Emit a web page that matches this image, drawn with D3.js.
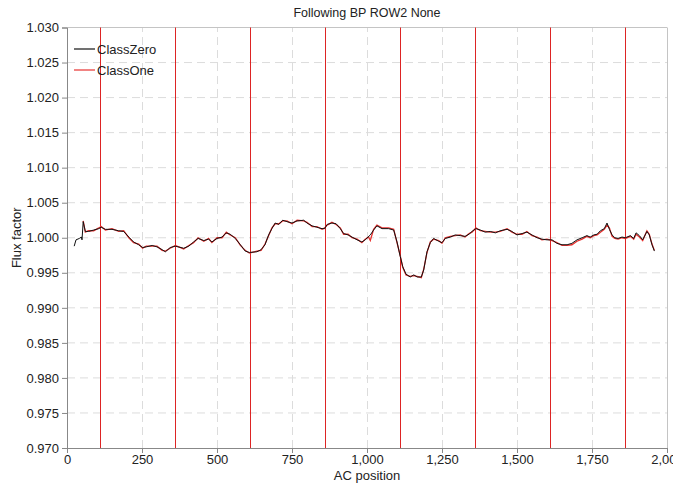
<!DOCTYPE html>
<html>
<head>
<meta charset="utf-8">
<script src="https://cdn.jsdelivr.net/npm/d3@7"></script>
<style>
  body { margin: 0; background: #fff; }
  text { font-family: "Liberation Sans", Arial, sans-serif; }
</style>
</head>
<body>
<div id="chart"></div>
<script>
// ClassZero (black) samples
var zeroX = [24,30,41,48,50,54,61,72,89,106,114,128,150,172,189,206,222,239,252,264,284,300,317,328,344,361,389,406,422,437,456,472,483,500,517,531,544,561,578,594,608,633,647,660,672,683,694,706,719,733,750,767,789,800,817,833,850,859,867,883,897,911,922,937,950,967,983,994,1011,1022,1033,1050,1072,1089,1100,1111,1119,1130,1144,1156,1167,1181,1189,1200,1211,1222,1239,1250,1261,1278,1294,1311,1327,1340,1350,1363,1378,1394,1411,1428,1444,1467,1483,1500,1517,1533,1550,1567,1583,1600,1617,1633,1650,1667,1683,1700,1717,1733,1744,1756,1767,1778,1791,1800,1808,1817,1826,1837,1850,1861,1878,1889,1897,1908,1919,1933,1941,1950,1958];
var zeroY = [0.9988,0.9997,0.9999,1.0001,0.9997,1.0023,1.0009,1.0009,1.0011,1.0013,1.0015,1.0012,1.0012,1.0010,1.0009,1.0001,0.9994,0.9990,0.9986,0.9987,0.9989,0.9987,0.9983,0.9980,0.9986,0.9988,0.9985,0.9988,0.9994,0.9999,0.9996,0.9998,0.9994,0.9999,1.0001,1.0007,1.0005,0.9999,0.9990,0.9981,0.9979,0.9980,0.9983,0.9990,1.0004,1.0013,1.0021,1.0019,1.0025,1.0023,1.0021,1.0024,1.0025,1.0021,1.0017,1.0015,1.0013,1.0013,1.0019,1.0021,1.0020,1.0013,1.0006,1.0004,1.0001,0.9997,0.9994,0.9997,1.0004,1.0011,1.0017,1.0013,1.0013,1.0011,0.9994,0.9973,0.9959,0.9948,0.9944,0.9947,0.9944,0.9944,0.9954,0.9980,0.9993,0.9999,0.9995,0.9993,0.9999,1.0001,1.0004,1.0003,1.0002,1.0005,1.0009,1.0013,1.0011,1.0008,1.0009,1.0007,1.0010,1.0012,1.0009,1.0004,1.0006,1.0008,1.0004,1.0000,0.9998,0.9997,0.9997,0.9992,0.9990,0.9990,0.9992,0.9997,1.0000,1.0003,1.0001,1.0004,1.0005,1.0010,1.0013,1.0021,1.0012,1.0004,1.0000,0.9999,1.0001,1.0000,1.0003,0.9999,1.0007,1.0003,0.9997,1.0009,1.0004,0.9990,0.9981];

// ClassOne (red)
var oneX = [54,61,72,89,106,114,128,150,172,189,206,222,239,252,264,284,300,317,328,344,361,389,406,422,437,456,472,483,500,517,531,544,561,578,594,608,633,647,660,672,683,694,706,719,733,750,767,789,800,817,833,850,859,867,883,897,911,922,937,950,967,983,994,1005,1011,1022,1033,1050,1072,1089,1100,1111,1119,1130,1144,1156,1167,1181,1189,1200,1211,1222,1239,1250,1261,1278,1294,1311,1327,1340,1350,1363,1378,1394,1411,1428,1444,1467,1483,1500,1517,1533,1550,1567,1583,1600,1617,1633,1650,1667,1683,1700,1717,1733,1744,1756,1767,1778,1791,1800,1808,1817,1826,1837,1850,1861,1878,1889,1897,1908,1919,1933,1941,1950,1958];
var oneY = [1.0024,1.0008,1.0010,1.0010,1.0014,1.0016,1.0011,1.0013,1.0009,1.0010,1.0000,0.9993,0.9991,0.9985,0.9988,0.9988,0.9988,0.9982,0.9981,0.9985,0.9989,0.9984,0.9989,0.9993,1.0000,0.9995,0.9999,0.9993,1.0000,1.0000,1.0008,1.0004,1.0000,0.9989,0.9982,0.9978,0.9981,0.9982,0.9991,1.0003,1.0014,1.0020,1.0020,1.0024,1.0024,1.0020,1.0025,1.0024,1.0022,1.0016,1.0016,1.0012,1.0014,1.0018,1.0022,1.0019,1.0014,1.0005,1.0005,1.0000,0.9998,0.9993,0.9998,1.0001,0.9996,1.0012,1.0018,1.0014,1.0014,1.0012,0.9993,0.9974,0.9958,0.9947,0.9945,0.9946,0.9945,0.9943,0.9955,0.9979,0.9994,0.9998,0.9996,0.9992,1.0000,1.0002,1.0003,1.0004,1.0001,1.0006,1.0008,1.0014,1.0010,1.0009,1.0008,1.0008,1.0009,1.0013,1.0008,1.0005,1.0005,1.0009,1.0003,1.0001,0.9997,0.9998,0.9996,0.9993,0.9989,0.9989,0.9990,0.9995,0.9998,1.0002,1.0000,1.0003,1.0004,1.0008,1.0012,1.0018,1.0014,1.0002,0.9999,0.9998,1.0000,0.9999,1.0002,0.9998,1.0005,1.0001,0.9996,1.0010,1.0005,0.9991,0.9982];

var markerX = [110,360,610,860,1110,1360,1610,1860];
var xTicks = [0,250,500,750,1000,1250,1500,1750,2000];
var yTicks = [0.970,0.975,0.980,0.985,0.990,0.995,1.000,1.005,1.010,1.015,1.020,1.025,1.030];
var seriesNames = ["ClassZero","ClassOne"];
var seriesColors = ["#111111","#e8312f"];

var width = 673, height = 485;
var margin = {top: 27.5, right: 6, bottom: 37, left: 67};

var svg = d3.select("#chart").append("svg")
    .attr("width", width)
    .attr("height", height);

var x = d3.scaleLinear().domain([0, 2000]).range([margin.left, width - margin.right]);
var y = d3.scaleLinear().domain([0.970, 1.030]).range([height - margin.bottom, margin.top]);

// snap a vertical line to a pixel column
function px(v){ return Math.round(x(v)) + 0.5; }

// grid
svg.append("g").selectAll("line.hg")
    .data(yTicks.slice(1, -1))
    .enter().append("line")
    .attr("x1", x(0)).attr("x2", x(2000))
    .attr("y1", function(d){ return y(d); }).attr("y2", function(d){ return y(d); })
    .attr("stroke", "#dcdcdc").attr("stroke-dasharray", "8,5");
svg.append("g").selectAll("line.vg")
    .data(xTicks.slice(1, -1))
    .enter().append("line")
    .attr("y1", y(0.970)).attr("y2", y(1.030))
    .attr("x1", function(d){ return px(d); }).attr("x2", function(d){ return px(d); })
    .attr("stroke", "#dcdcdc").attr("stroke-dasharray", "8,5");

// frame top / right
svg.append("line").attr("x1", x(0)).attr("x2", x(2000)).attr("y1", y(1.030)).attr("y2", y(1.030))
    .attr("stroke", "#c4c4c4");
svg.append("line").attr("x1", px(2000)).attr("x2", px(2000)).attr("y1", y(1.030)).attr("y2", y(0.970))
    .attr("stroke", "#c4c4c4");

// vertical marker lines
svg.append("g").selectAll("line")
    .data(markerX)
    .enter().append("line")
    .attr("x1", function(d){ return px(d); }).attr("x2", function(d){ return px(d); })
    .attr("y1", y(1.030)).attr("y2", y(0.970))
    .attr("stroke", "#dd2424").attr("stroke-width", 1);

var line = d3.line()
    .x(function(d){ return x(d[0]); })
    .y(function(d){ return y(d[1]); });

var zero = d3.zip(zeroX, zeroY);
var one = d3.zip(oneX, oneY);

svg.append("path").datum(one)
    .attr("d", line).attr("fill", "none")
    .attr("stroke", seriesColors[1]).attr("stroke-width", 1.3);
svg.append("path").datum(zero)
    .attr("d", line).attr("fill", "none")
    .attr("stroke", seriesColors[0]).attr("stroke-width", 1);

// axes
var xAxis = svg.append("g")
    .attr("transform", "translate(0," + y(0.970) + ")")
    .call(d3.axisBottom(x).tickValues(xTicks).tickSize(5).tickFormat(d3.format(",")));
var yAxis = svg.append("g")
    .attr("transform", "translate(" + x(0) + ",0)")
    .call(d3.axisLeft(y).tickValues(yTicks).tickSize(5).tickFormat(d3.format(".3f")));

[xAxis, yAxis].forEach(function(a){
  a.select(".domain").attr("stroke", "#888");
  a.selectAll(".tick line").attr("stroke", "#888");
  a.selectAll(".tick text").attr("fill", "#222")
    .style("font-family", "'Liberation Sans', Arial, sans-serif").style("font-size", "13px");
});
xAxis.selectAll(".tick text").attr("dy", "0.6em");

// titles
svg.append("text").attr("x", (x(0) + x(2000)) / 2).attr("y", 17)
    .attr("text-anchor", "middle").attr("font-size", 12.5).attr("fill", "#222")
    .text("Following BP ROW2 None");
svg.append("text").attr("x", (x(0) + x(2000)) / 2).attr("y", 480)
    .attr("text-anchor", "middle").attr("font-size", 13).attr("fill", "#222")
    .text("AC position");
svg.append("text").attr("transform", "translate(21," + y(1.0) + ") rotate(-90)")
    .attr("text-anchor", "middle").attr("font-size", 13).attr("fill", "#222")
    .text("Flux factor");

// legend
var leg = svg.append("g").selectAll("g")
    .data(seriesNames)
    .enter().append("g")
    .attr("transform", function(d, i){ return "translate(74," + (49 + i * 21) + ")"; });
leg.append("line").attr("x1", 0).attr("x2", 21)
    .attr("stroke", function(d, i){ return seriesColors[i]; }).attr("stroke-width", 1.2);
leg.append("text").attr("x", 23).attr("dy", "0.35em")
    .attr("font-size", 13).attr("fill", "#222")
    .text(function(d){ return d; });
</script>
</body>
</html>
